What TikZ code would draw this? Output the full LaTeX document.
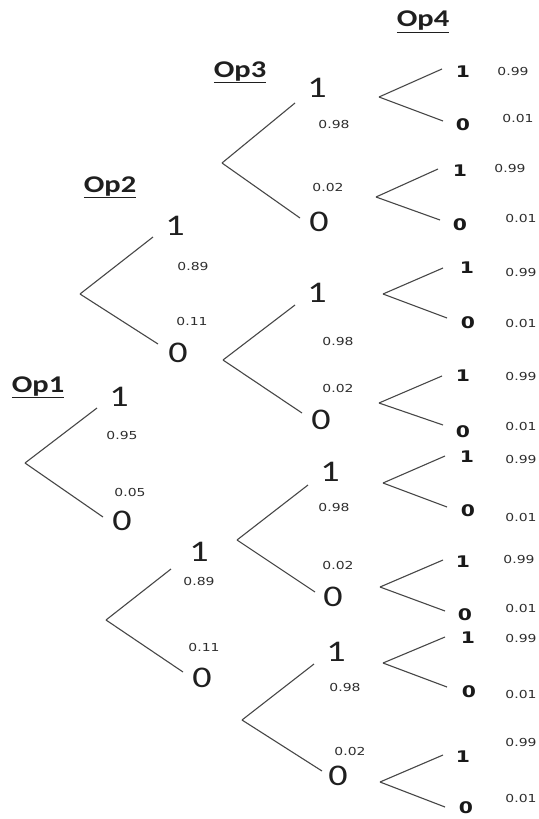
\documentclass[tikz,border=0pt]{standalone}
\usepackage{fontspec}
\setmainfont[FakeStretch=1.27]{Carlito}
\newfontfamily\probfont[FakeStretch=1.27]{DejaVu Sans}
\newfontfamily\leaffont[FakeStretch=1.27]{DejaVu Sans}

\tikzset{
  branch/.style={draw=black!72, line width=1.1pt},
  outcome/.style={inner sep=0pt, text=black!88, font=\fontsize{30}{30}\selectfont},
  leaf/.style={inner sep=0pt, text=black!90, font=\leaffont\bfseries\fontsize{16}{16}\selectfont},
  prob/.style={inner sep=0pt, text=black!82, font=\probfont\fontsize{11}{11}\selectfont},
  stage/.style={inner sep=0pt, anchor=base, text=black!88, font=\bfseries\fontsize{24}{24}\selectfont},
}

% one two-way split of the last stage: vertex, outcome nodes and their probabilities
% #1 name, #2 vertex, #3 pos of "1", #4 pos of "0", #5 pos of 0.99, #6 pos of 0.01, #7 shift up, #8 shift down
\newcommand\leafsplit[8]{%
  \coordinate (#1v) at (#2);
  \node[leaf] (#1u) at (#3) {1};
  \node[leaf] (#1d) at (#4) {0};
  \node[prob] (#1pu) at (#5) {0.99};
  \node[prob] (#1pd) at (#6) {0.01};
  \draw[branch] (#1v) -- ([shift={(#7)}]#1u.center);
  \draw[branch] (#1v) -- ([shift={(#8)}]#1d.center);
}

% a two-way split of an inner stage with big outcome digits
% #1 name, #2 vertex, #3 pos of "1", #4 pos of "0", #5 upper prob text, #6 its pos, #7 lower prob text, #8 its pos, #9 shifts "up/down"
\newcommand\innersplit[9]{%
  \coordinate (#1v) at (#2);
  \node[outcome] (#1u) at (#3) {1};
  \node[outcome] (#1d) at (#4) {0};
  \node[prob] (#1pu) at (#6) {#5};
  \node[prob] (#1pd) at (#8) {#7};
  \innerlines{#1}#9\relax
}
\def\innerlines#1#2/#3\relax{%
  \draw[branch] (#1v) -- ([shift={(#2)}]#1u.center);
  \draw[branch] (#1v) -- ([shift={(#3)}]#1d.center);
}

\begin{document}
\begin{tikzpicture}[x=1pt, y=-1pt]
\fill[white] (0,0) rectangle (538,819);
\useasboundingbox (0,0) rectangle (538,819);

% stage headings
\node[stage] (h1) at (38,392) {\underline{Op1}};
\node[stage] (h2) at (110,192) {\underline{Op2}};
\node[stage] (h3) at (240,77) {\underline{Op3}};
\node[stage] (h4) at (423,27) {\underline{Op4}};

% Op1
\innersplit{s1}{25,463}{119,397}{122,521}{0.95}{122,435}{0.05}{130,492}{-22,11/-19,-4}

% Op2
\innersplit{s2a}{80,294}{175,226}{178,353}{0.89}{193,266}{0.11}{192,321}{-22,11/-20,-9}
\innersplit{s2b}{106,620}{199,552}{202,678}{0.89}{199,581}{0.11}{204,647}{-28,17/-19,-6}

% Op3
\innersplit{s3a}{222,163}{317,88}{319,222}{0.98}{334,124}{0.02}{328,187}{-22,15/-19,-4}
\innersplit{s3b}{223,360}{317,293}{321,420}{0.98}{338,341}{0.02}{338,388}{-22,12/-19,-7}
\innersplit{s3c}{237,540}{330,472}{333,597}{0.98}{334,507}{0.02}{338,565}{-22,13/-18,-5}
\innersplit{s3d}{242,720}{336,652}{338,776}{0.98}{345,687}{0.02}{350,751}{-22,12/-16,-5}

% Op4
\leafsplit{s4a}{379,97}{463,72}{463,125}{513,71}{518,118}{-21,-3}{-20,-4}
\leafsplit{s4b}{376,197}{460,171}{460,225}{510,168}{521,218}{-22,-2}{-20,-5}
\leafsplit{s4c}{383,294}{467,268}{468,323}{521,272}{521,323}{-24,0}{-21,-5}
\leafsplit{s4d}{379,403}{463,376}{463,432}{521,376}{521,426}{-21,0}{-20,-7}
\leafsplit{s4e}{383,483}{467,457}{468,511}{521,459}{521,517}{-22,-1}{-21,-4}
\leafsplit{s4f}{380,587}{463,562}{465,615}{519,559}{521,608}{-20,-2}{-20,-4}
\leafsplit{s4g}{383,663}{468,638}{469,692}{521,638}{521,694}{-23,-1}{-22,-5}
\leafsplit{s4h}{380,782}{463,757}{466,808}{521,742}{521,798}{-20,-2}{-21,-1}
\end{tikzpicture}
\end{document}
